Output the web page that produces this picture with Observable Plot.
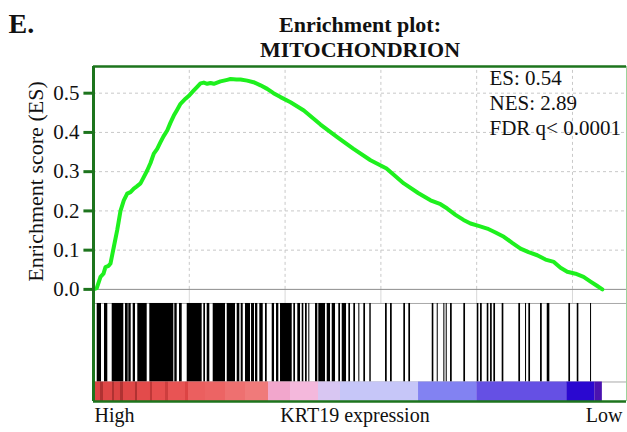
<!DOCTYPE html>
<html><head><meta charset="utf-8">
<script src="https://cdn.jsdelivr.net/npm/d3@7"></script>
<script src="https://cdn.jsdelivr.net/npm/@observablehq/plot@0.6"></script>
<style>
html,body{margin:0;padding:0;background:#fff;}
#chart svg{display:block;}
</style></head><body><div id="chart"></div>
<script>
// ---------- data ----------
const totalGenes = 26560;
const axisMaxRank = 27820;
const esRank = [0,170,365,522,626,783,887,1060,1237,1305,1409,1582,1759,1931,2104,2245,2453,2610,2803,2975,3148,3325,3497,3654,3847,4019,4192,4369,4541,4802,5011,5236,5413,5585,5758,5935,6107,6280,6629,6979,7151,7465,7673,8023,8352,8717,9067,9396,9761,10283,10978,11849,12721,13572,14459,15295,16197,16965,17591,18113,18463,18896,19314,19679,20097,20551,20984,21418,21872,22289,22707,23161,23594,24028,24377,24727,25160,25578,25943,26257,26560];
const esValue = [0,0.003,0.032,0.04,0.057,0.06,0.066,0.108,0.151,0.17,0.2,0.227,0.244,0.248,0.257,0.262,0.27,0.285,0.303,0.322,0.346,0.358,0.375,0.39,0.405,0.425,0.443,0.458,0.473,0.486,0.495,0.507,0.516,0.525,0.527,0.524,0.526,0.524,0.53,0.534,0.536,0.535,0.535,0.532,0.528,0.52,0.511,0.5,0.49,0.477,0.456,0.42,0.388,0.358,0.329,0.308,0.27,0.245,0.227,0.217,0.206,0.19,0.177,0.168,0.162,0.155,0.145,0.134,0.118,0.104,0.095,0.087,0.076,0.07,0.055,0.045,0.04,0.032,0.02,0.01,0.0];
// gene-set hits (runs of member genes, rank start / end)
const hitStart = [193,574,976,1670,1843,2072,2312,2939,4244,4489,4891,5758,5935,6248,6979,7501,7710,7934,8248,8456,8681,8978,9328,9553,9761,10456,10664,10894,11066,11238,11588,11760,12199,12460,12804,12982,13327,13588,13849,14110,14423,15242,15503,16197,16459,17680,17941,18286,18410,18635,19330,20029,20201,20551,20724,20896,21331,22200,22550,22723,23333,23683,24811,25249,25943];
const hitEnd   = [418,746,1582,1811,1968,2192,2803,4192,4369,4630,5672,5846,6071,6890,7412,7637,7814,8195,8404,8577,8858,9067,9448,9673,10372,10544,10805,10978,11155,11290,11708,12110,12371,12632,12893,13207,13415,13676,13901,14198,14496,15331,15592,16285,16547,17764,17993,18340,18463,18724,19418,20113,20290,20635,20812,20984,21418,22289,22603,22811,23423,23819,24899,25333,25996];
// ranked-list metric (colour bar), segments
const barStart  = [0,365,522,992,1096,1409,1566,2192,2297,2975,3080,3758,3915,4802,4959,5846,6890,7934,9135,10283,11745,12893,16965,20004,24702,26163];
const barEnd    = [365,522,992,1096,1409,1566,2192,2297,2975,3080,3758,3915,4802,4959,5846,6890,7934,9135,10283,11745,12893,16965,20004,24702,26163,26560];
const barMetric = [0.85,1.0,0.8,1.0,0.85,1.0,0.8,1.0,0.75,0.95,0.7,0.9,0.65,0.85,0.55,0.5,0.42,0.35,0.12,0.08,-0.05,-0.12,-0.35,-0.5,-0.8,-1];
const yTicks = [0,0.1,0.2,0.3,0.4,0.5];
const xGrid = [5000,10000,15000,20000,25000];
const titleLines = ["Enrichment plot:", "MITOCHONDRION"];
const stats = ["ES: 0.54", "NES: 2.89", "FDR q< 0.0001"];
const panelLabel = "E.";
const yLabel = "Enrichment score (ES)";
const xLabelHigh = "High", xLabelMid = "KRT19 expression", xLabelLow = "Low";

// ---------- layout ----------
const yTop = 0.568, yBottom = -0.2857, hitTop = -0.0359, hitBottom = -0.236;
const tickLen = 500; // ~10px expressed in rank units
const font = "'Liberation Serif','Times New Roman',serif";
const frameGreen = "#1d741d";

const es = esRank.map((r, i) => ({rank: r, es: esValue[i]}));
const hits = hitStart.map((s, i) => ({s, e: hitEnd[i]}));
const bars = barStart.map((s, i) => ({s, e: barEnd[i], m: barMetric[i]}));

const plot = Plot.plot({
  width: 627, height: 432,
  marginLeft: 93, marginRight: 1, marginTop: 66, marginBottom: 31,
  style: {fontFamily: font, background: "#fff", overflow: "visible", color: "#111"},
  x: {domain: [0, axisMaxRank], axis: null},
  y: {domain: [yBottom, yTop], axis: null},
  color: {
    type: "linear",
    domain: [-1, -0.8, -0.5, -0.35, -0.12, -0.05, 0.08, 0.12, 0.35, 0.5, 0.7, 0.85, 1],
    range: ["#4a12b0", "#2a08d0", "#6550e4", "#8282f2", "#c6c6f8", "#d8c6f2", "#f4b8dc", "#f2a6cc", "#f07a7a", "#ec6464", "#e64e4e", "#dc4444", "#b03232"],
    clamp: true
  },
  marks: [
    Plot.ruleY(yTicks.filter(d => d > 0), {stroke: "#c8c8c8", strokeDasharray: "3,3"}),
    Plot.ruleX(xGrid, {y1: 0, y2: yTop, stroke: "#c8c8c8", strokeDasharray: "3,3"}),
    Plot.ruleX(xGrid, {y1: hitTop, y2: 0, stroke: "#d8d8d8"}),
    Plot.ruleY([0], {stroke: "#8c8c8c"}),
    Plot.ruleY([hitTop, hitBottom], {stroke: "#a8a8a8"}),
    Plot.rect(hits, {x1: "s", x2: "e", y1: hitTop, y2: hitBottom, fill: "black"}),
    Plot.rect(bars, {x1: "s", x2: "e", y1: hitBottom, y2: yBottom, fill: "m"}),
    Plot.line(es, {x: "rank", y: "es", stroke: "#1ef01e", strokeWidth: 4}),
    // frame
    Plot.ruleX([axisMaxRank], {stroke: "#9cd49c", strokeWidth: 1}),
    Plot.ruleY([yTop], {stroke: frameGreen, strokeWidth: 2.5}),
    Plot.ruleY([yBottom], {stroke: frameGreen, strokeWidth: 2.5}),
    Plot.ruleX([0], {stroke: frameGreen, strokeWidth: 3}),
    // y ticks (outward, green) and labels
    Plot.ruleY(yTicks, {x1: -tickLen, x2: 0, stroke: frameGreen, strokeWidth: 3}),
    Plot.axisY(yTicks, {tickSize: 0, tickPadding: 14, fill: "#111",
      fontSize: 21, tickFormat: d => d.toFixed(1), label: null}),
    // texts
    Plot.text([yLabel], {text: d => d, frameAnchor: "left", textAnchor: "middle", y: 0.275, dx: -58, rotate: -90, fontSize: 22, fill: "#111"}),
    Plot.text([titleLines[0]], {text: d => d, frameAnchor: "top", dy: -35, lineAnchor: "bottom", fontWeight: "bold", fontSize: 22, fill: "#111"}),
    Plot.text([titleLines[1]], {text: d => d, frameAnchor: "top", dy: -10, lineAnchor: "bottom", fontWeight: "bold", fontSize: 22, fill: "#111"}),
    Plot.text([panelLabel], {text: d => d, frameAnchor: "top-left", textAnchor: "start", dx: -85, dy: -34, lineAnchor: "bottom", fontWeight: "bold", fontSize: 28, fill: "#111"}),
    Plot.text([stats.join("\n")], {text: d => d, frameAnchor: "top-right", textAnchor: "start", dx: -137, dy: 1, lineAnchor: "top", lineHeight: 1.19, fontSize: 21, fill: "#111"}),
    Plot.text([xLabelHigh], {text: d => d, frameAnchor: "bottom-left", textAnchor: "start", dx: 1, dy: 20, lineAnchor: "bottom", fontSize: 20, fill: "#111"}),
    Plot.text([xLabelMid], {text: d => d, frameAnchor: "bottom", dx: -5, dy: 20, lineAnchor: "bottom", fontSize: 20, fill: "#111"}),
    Plot.text([xLabelLow], {text: d => d, frameAnchor: "bottom-right", textAnchor: "end", dx: -4, dy: 20, lineAnchor: "bottom", fontSize: 20, fill: "#111"})
  ]
});
document.getElementById("chart").appendChild(plot);
</script></body></html>
